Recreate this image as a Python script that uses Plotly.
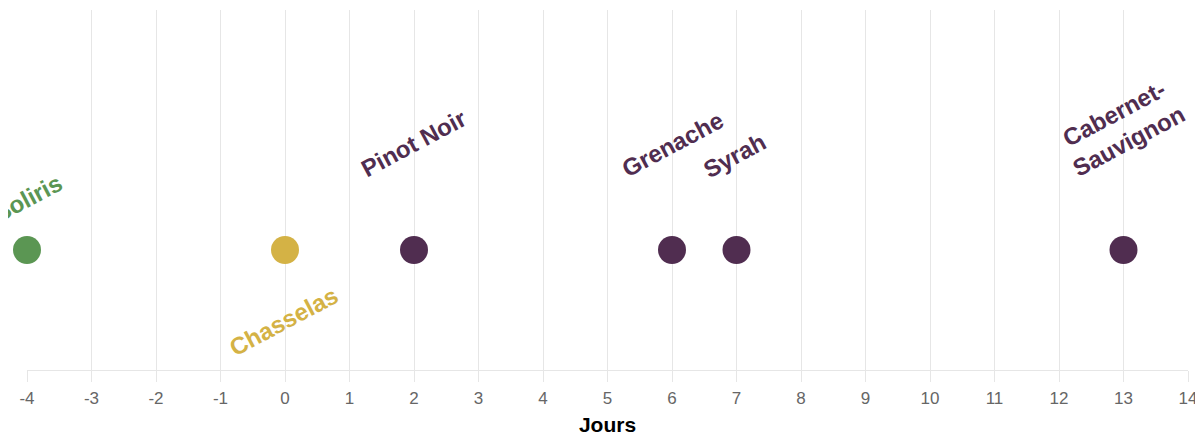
import plotly.graph_objects as go

# Data
cepages = ["Soliris", "Chasselas", "Pinot Noir", "Grenache", "Syrah", "Cabernet-<br>Sauvignon"]
jours = [-4, 0, 2, 6, 7, 13]
niveau = [0, 0, 0, 0, 0, 0]
couleurs = ["#5b9653", "#d4b245", "#502d50", "#502d50", "#502d50", "#502d50"]
tick_vals = list(range(-4, 15))
tick_text = [str(v) for v in tick_vals]

# label placement offsets (pixels)
label_dx = [0, -2, -1, 0, -2, -2]
label_dy = [52, -71, 107, 106, 95, 123]

fig = go.Figure()
fig.add_trace(go.Scatter(
    x=jours, y=niveau, mode="markers",
    marker=dict(size=28, color=couleurs, line=dict(width=0)),
    hoverinfo="skip", showlegend=False, cliponaxis=False,
))

for name, xv, yv, c, dx, dy in zip(cepages, jours, niveau, couleurs, label_dx, label_dy):
    fig.add_annotation(
        x=xv, y=yv, xref="x", yref="y", text=name, showarrow=False,
        textangle=-28, xshift=dx, yshift=dy,
        font=dict(family="Liberation Sans, Arial, sans-serif", size=24, color=c, weight="bold"),
        xanchor="center", yanchor="middle", align="center",
    )

fig.update_xaxes(
    range=[-4, 14], tickmode="array", tickvals=tick_vals, ticktext=tick_text,
    showgrid=True, gridcolor="#e6e6e6", gridwidth=1,
    showline=True, linecolor="#e6e6e6", linewidth=1,
    ticks="outside", ticklen=11, tickcolor="#e6e6e6",
    ticklabelstandoff=2,
    tickfont=dict(family="Liberation Sans, Arial, sans-serif", size=17, color="#666666"),
    zeroline=False, automargin=False,
    title=dict(text="<b>Jours</b>", standoff=17,
               font=dict(family="Liberation Sans, Arial, sans-serif", size=21, color="#000000")),
)
fig.update_yaxes(range=[-1, 2], visible=False, showgrid=False, zeroline=False)

# page body has an 8px margin: figure is sized so the plot lands where the reference has it
fig.update_layout(
    width=1195, height=428,
    margin=dict(l=19, r=15, t=2, b=66),
    plot_bgcolor="white", paper_bgcolor="white",
)

fig.write_html("out.html")
